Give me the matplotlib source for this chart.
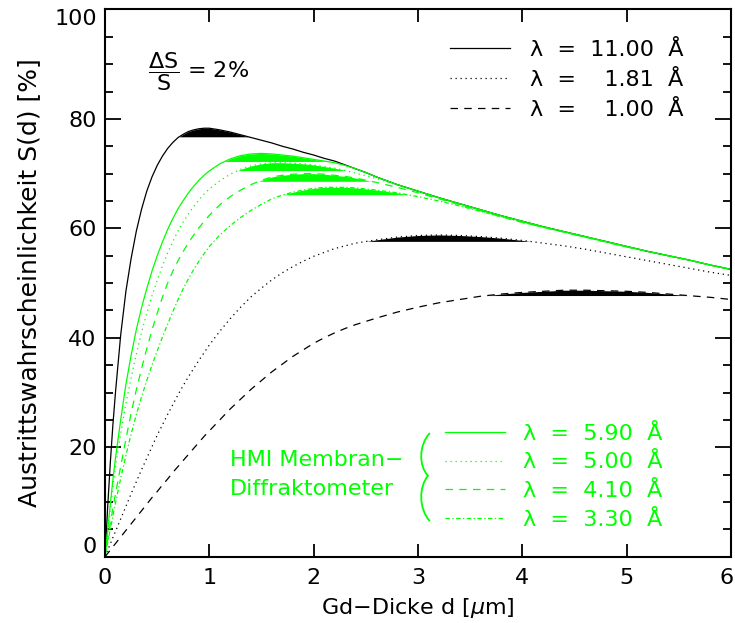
import numpy as np
import matplotlib
matplotlib.use('Agg')
import matplotlib.pyplot as plt
from matplotlib.path import Path
from matplotlib.patches import PathPatch
from matplotlib.transforms import ScaledTranslation

plt.rcParams['font.family'] = ['DejaVu Sans']
plt.rcParams['mathtext.fontset'] = 'dejavusans'

GREEN = '#00ff00'

# Gd thickness grid (um)
d = [0, 0.025, 0.05, 0.075, 0.1, 0.15, 0.2, 0.25, 0.3, 0.35, 0.4, 0.45, 0.5,
     0.55, 0.6, 0.65, 0.7, 0.75, 0.8, 0.85, 0.9, 0.95, 1.0,
     1.1, 1.2, 1.3, 1.4, 1.5, 1.6, 1.7, 1.8, 1.9, 2.0, 2.1, 2.2, 2.3, 2.4, 2.5, 2.6,
     2.8, 3.0, 3.2, 3.4, 3.6, 3.8, 4.0, 4.2, 4.4, 4.6, 4.8, 5.0, 5.2, 5.4, 5.6, 5.8, 6.0]

# escape probability S(d) in %
s_1100 = [0, 9, 17, 24, 30, 40.5, 48.5, 54.5, 59.5, 63.5, 66.8, 69.4, 71.5,
          73.2, 74.6, 75.7, 76.6, 77.2, 77.7, 78.0, 78.2, 78.3, 78.3,
          78.0, 77.6, 77.1, 76.6, 76.1, 75.6, 75.0, 74.5, 73.9, 73.4, 72.8, 72.3, 71.6, 70.9, 70.2, 69.4,
          68.0, 66.8, 65.6, 64.5, 63.4, 62.3, 61.3, 60.3, 59.4, 58.5, 57.6, 56.7, 55.8, 55.0, 54.2, 53.3, 52.5]
s_181 = [0, 1.2, 2.3, 3.5, 4.6, 6.9, 9.2, 11.5, 13.7, 15.9, 18.0, 20.1, 22.2,
         24.1, 26.0, 27.8, 29.6, 31.3, 32.9, 34.4, 35.9, 37.3, 38.7,
         41.2, 43.5, 45.6, 47.5, 49.1, 50.6, 51.9, 53.0, 54.0, 54.9, 55.6, 56.3, 56.8, 57.3, 57.6, 57.9,
         58.4, 58.7, 58.8, 58.7, 58.5, 58.2, 57.8, 57.3, 56.8, 56.2, 55.5, 54.8, 54.1, 53.4, 52.7, 52.0, 51.4]
s_100 = [0, 0.6, 1.2, 1.8, 2.4, 3.6, 4.8, 6.0, 7.2, 8.4, 9.6, 10.8, 11.9,
         13.1, 14.2, 15.4, 16.5, 17.6, 18.7, 19.8, 20.9, 22.0, 23.0,
         25.0, 27.0, 28.8, 30.6, 32.2, 33.8, 35.2, 36.6, 37.8, 39.0, 40.0, 40.9, 41.7, 42.4, 43.0, 43.6,
         44.7, 45.6, 46.4, 47.0, 47.6, 48.0, 48.3, 48.5, 48.7, 48.7, 48.6, 48.5, 48.3, 48.0, 47.7, 47.4, 47.0]

s_590 = [0, 4.8, 9.5, 14, 18, 25, 31.5, 36.8, 41.5, 45.5, 49, 52.2, 55,
         57.5, 59.8, 61.8, 63.6, 65.1, 66.5, 67.7, 68.8, 69.7, 70.5,
         71.8, 72.7, 73.3, 73.6, 73.7, 73.6, 73.4, 73.2, 72.9, 72.6, 72.3, 72.0, 71.5, 70.9, 70.2, 69.4,
         68.0, 66.8, 65.6, 64.5, 63.4, 62.3, 61.3, 60.3, 59.4, 58.5, 57.6, 56.7, 55.8, 55.0, 54.2, 53.3, 52.5]
s_500 = [0, 4.2, 8.5, 12.6, 16.5, 22.5, 28, 32.7, 37, 41, 44.5, 47.7, 50.5,
         53.1, 55.5, 57.6, 59.5, 61.2, 62.7, 64.0, 65.2, 66.3, 67.2,
         68.7, 69.9, 70.8, 71.4, 71.8, 72.0, 72.0, 71.9, 71.8, 71.6, 71.3, 71.0, 70.6, 70.1, 69.6, 69.1,
         67.9, 66.7, 65.5, 64.4, 63.3, 62.2, 61.2, 60.3, 59.4, 58.5, 57.6, 56.7, 55.8, 55.0, 54.2, 53.3, 52.5]
s_410 = [0, 3, 6, 8.8, 11.5, 16.5, 21.5, 26.2, 30.5, 34.4, 38, 41.4, 44.5,
         47.4, 50, 52.2, 54.1, 55.8, 57.4, 58.8, 60.1, 61.3, 62.4,
         64.3, 65.8, 67.0, 68.0, 68.8, 69.4, 69.7, 69.9, 70.0, 70.0, 69.9, 69.7, 69.5, 69.2, 68.8, 68.4,
         67.5, 66.5, 65.4, 64.3, 63.2, 62.1, 61.1, 60.2, 59.3, 58.4, 57.5, 56.6, 55.8, 55.0, 54.2, 53.3, 52.5]
s_330 = [0, 2.5, 5, 7.4, 9.8, 14.3, 18.5, 22.4, 26, 29.2, 32.2, 35.0, 37.6,
         40.1, 42.5, 44.8, 47.0, 49.0, 50.8, 52.5, 54.0, 55.4, 56.7,
         58.8, 60.5, 62.0, 63.3, 64.4, 65.4, 66.1, 66.6, 67.0, 67.3, 67.5, 67.5, 67.5, 67.4, 67.2, 67.0,
         66.5, 65.8, 65.0, 64.1, 63.1, 62.1, 61.1, 60.2, 59.3, 58.4, 57.5, 56.6, 55.8, 55.0, 54.2, 53.3, 52.5]

dotted = (0, (1, 3))
dashed = (0, (6, 5))
dashdot = (0, (3.5, 2, 1, 2))

fig = plt.figure(figsize=(7.35, 6.23), dpi=100)
ax = fig.add_axes([0.1429, 0.1064, 0.8517, 0.8784])


def draw_curve(y, color, ls, label):
    y = np.array(y)
    line, = ax.plot(d, y, color=color, ls=ls, lw=0.9, label=label)
    top = 0.98 * y.max()
    ax.fill_between(d, y, top, where=y >= top, interpolate=True,
                    color=color, lw=0)
    return line


fs = '\u2007'
black_lines = [
    draw_curve(s_1100, 'black', '-', 'λ  =  11.00  Å'),
    draw_curve(s_181, 'black', dotted, 'λ  =  ' + fs + '1.81  Å'),
    draw_curve(s_100, 'black', dashed, 'λ  =  ' + fs + '1.00  Å'),
]
green_lines = [
    draw_curve(s_590, GREEN, '-', 'λ  =  5.90  Å'),
    draw_curve(s_500, GREEN, dotted, 'λ  =  5.00  Å'),
    draw_curve(s_410, GREEN, dashed, 'λ  =  4.10  Å'),
    draw_curve(s_330, GREEN, dashdot, 'λ  =  3.30  Å'),
]

ax.set_xlim(0, 6)
ax.set_ylim(0, 100)
ax.set_xticks(range(0, 7))
ax.set_yticks(range(0, 101, 20))
ax.set_yticks(range(0, 101, 5), minor=True)
ax.tick_params(which='both', direction='in', top=True, right=True,
               width=1.3, labelsize=16)
ax.tick_params(axis='x', which='major', length=9.5, pad=8)
ax.tick_params(axis='y', which='major', length=11.5, pad=6)
ax.tick_params(axis='y', which='minor', length=5.5)
for sp in ax.spines.values():
    sp.set_linewidth(1.5)

ylabels = ax.get_yticklabels()
ylabels[0].set_va('bottom')
ylabels[-1].set_va('top')
xlabels = ax.get_xticklabels()
xlabels[-1].set_ha('right')
xlabels[-1].set_transform(xlabels[-1].get_transform()
                          + ScaledTranslation(3 / 100, 0, fig.dpi_scale_trans))

ax.set_xlabel(r'Gd$-$Dicke d [$\mu$m]', fontsize=16, labelpad=6)
ax.set_ylabel('Austrittswahrscheinlichkeit S(d) [%]', fontsize=18, labelpad=9)

ax.text(0.069, 0.886, r'$\dfrac{\mathrm{\Delta S}}{\mathrm{S}}$ = 2%',
        transform=ax.transAxes, fontsize=16, va='center', ha='left')

leg1 = ax.legend(handles=black_lines, loc='upper left',
                 bbox_to_anchor=(0.551, 0.944), frameon=False, fontsize=16,
                 handlelength=2.7, handletextpad=0.9, labelspacing=0.45,
                 borderpad=0, borderaxespad=0)
ax.add_artist(leg1)
ax.legend(handles=green_lines, loc='upper left',
          bbox_to_anchor=(0.543, 0.243), frameon=False, fontsize=16,
          handlelength=2.7, handletextpad=0.8, labelspacing=0.39,
          borderpad=0, borderaxespad=0, labelcolor=GREEN)

ax.text(0.2, 0.150, 'HMI Membran\u2212\nDiffraktometer', color=GREEN,
        fontsize=16, transform=ax.transAxes, va='center', ha='left',
        linespacing=1.52)

# curly brace grouping the green legend
brace = Path([(0.519, 0.226), (0.501, 0.205), (0.501, 0.165), (0.516, 0.148),
              (0.501, 0.128), (0.501, 0.087), (0.519, 0.065)],
             [Path.MOVETO, Path.CURVE4, Path.CURVE4, Path.CURVE4,
              Path.CURVE4, Path.CURVE4, Path.CURVE4])
ax.add_patch(PathPatch(brace, transform=ax.transAxes, fill=False,
                       edgecolor=GREEN, lw=1.3))

fig.savefig('out.png', dpi=100)
